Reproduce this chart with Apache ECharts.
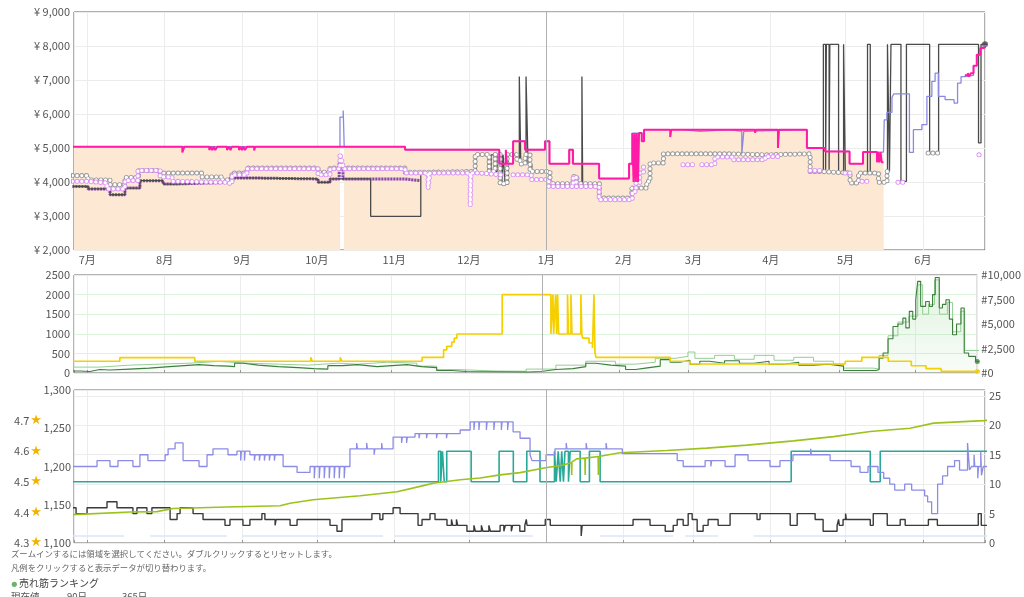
<!DOCTYPE html>
<html><head><meta charset="utf-8">
<script src="https://cdn.jsdelivr.net/npm/echarts/dist/echarts.min.js"></script>
<style>html,body{margin:0;padding:0;background:#fff}#c{width:1024px;height:597px}</style>
</head><body><div id="c"></div>
<script>
// x values are days after 2022-07-01 (day 0); null = gap
const monthNames = ['1月','2月','3月','4月','5月','6月','7月','8月','9月','10月','11月','12月'];
const axisStartDay = -5.33, axisEndDay = 359.9, yearBoundaryDay = 184;

const amazonPrice = [[-6,5040],[101.3,5040],[101.4,null],[102.9,5040],[127.4,4950],[165.2,4540],[170.7,5200],[175.5,4950],[183.5,5200],[185.3,4540],[193.2,4950],[194.7,4540],[205.2,4100],[217.2,4540],[218.5,5440],[222.3,5200],[223.2,5540],[288.5,5000],[295.8,4900],[305.6,4540],[311,4880],[319.2,4880],[319.3,null]];

const buyBox = [[-6,5040],[8.7,5000],[9.3,5040],[21.9,5000],[22.5,5040],[38.1,4870],[38.9,5040],[48.9,4940],[49.5,5040],[50.1,4940],[50.7,5040],[51.3,4940],[52.1,5040],[56,4940],[56.8,5040],[57.4,4940],[58,5040],[60.8,4940],[61.4,5040],[62,4940],[62.6,5040],[63.2,4940],[64,5040],[66.9,4930],[67.3,5040],[127.4,4950],[165.2,4540],[167.8,4950],[168.2,4540],[170.7,5200],[175.5,4950],[183.5,5200],[185.3,4540],[193.2,4950],[194.7,4540],[205.2,4100],[217.2,4540],[218.5,5440],[219,4000],[219.4,5440],[219.9,4000],[220.3,5440],[220.8,4000],[221.2,5440],[222.3,5200],[223.2,5540],[233.7,5320],[234.1,5540],[267.7,5450],[268.1,5540],[276.9,5000],[277.3,5540],[288.5,5000],[295.8,4900],[305.6,4540],[311,4880],[316.6,4580],[317,4880],[317.5,4580],[318,4880],[318.5,4580],[319.2,null],[351.8,7140],[353,7200],[353.5,7100],[354.2,7200],[355.3,7420],[356.6,7740],[358,7940],[359.2,7990],[361,7990]];

const newPrice = [[-6,5040],[101.3,5910],[102.6,6100],[103,5040],[127.4,4950],[165.2,4540],[170.7,5200],[175.5,4950],[183.5,5200],[185.3,4540],[193.2,4950],[194.7,4540],[205.2,4100],[217.2,4540],[218.5,5440],[222.3,5200],[223.2,5540],[238.4,5490],[245.7,5540],[257.7,5490],[262.4,4830],[263.2,5490],[263.6,5540],[288.5,5000],[295.8,4900],[305.6,4540],[311,4880],[319.2,4870],[319.5,5830],[320.6,6050],[322.6,6490],[323.3,6590],[329.6,4870],[331.2,5540],[334.6,5690],[336.6,6520],[338.6,6960],[339.9,7200],[341.2,6520],[343.9,6420],[347.5,6320],[348.9,6910],[350.3,7100],[352,7140],[355.3,7420],[356.6,7740],[358,7940],[359.2,8000],[361,8000]];

const usedPrice = [[-6,3870],[0.3,3795],[9.1,3625],[15.1,3820],[21.1,4040],[30.4,3940],[35.2,3990],[57.2,4120],[64,4090],[92.5,3990],[97.3,4090],[113.6,2990],[133.7,4265],[153.5,3290],[154.2,4310],[155.9,4800],[160.7,4310],[161.9,4800],[163.1,4310],[164.3,4800],[166.2,3950],[166.7,4800],[167.5,3950],[168.8,4800],[172.2,4650],[173.2,7100],[173.8,4530],[175.9,7100],[176.7,4530],[178.2,4310],[185.5,3950],[198.3,7100],[198.6,3950],[205.3,3530],[218.3,3820],[224.3,4020],[225.6,4560],[231,4830],[257.7,4800],[271.8,4830],[289.8,4310],[295.1,8050],[296,4360],[296.3,8050],[297.4,4360],[297.7,8050],[301.2,4265],[303.2,8050],[303.9,4265],[305.9,3970],[309.2,4265],[312.8,8050],[313.9,4265],[317.3,3990],[320.8,8050],[321.6,4310],[322.2,8050],[326.2,4020],[328.4,8050],[337.7,4850],[341.3,8050],[357.3,5150],[358.3,8050],[361,8050]];

const usedLikeNew = [[-6,4190],[0.3,4060],[9.1,3920],[15.1,4135],[20.6,4340],[29.2,4265],[46,4150],[54,4060],[58,4265],[64,4410],[92.5,4290],[97.3,4410],[127.4,4290],[138.2,4310],[155.5,4810],[161.1,4310],[163.5,4810],[165.5,3950],[168.3,4810],[172.2,4650],[173.5,4530],[175.5,4810],[177.5,4310],[185.5,3950],[194.8,4165],[196.3,3950],[205.3,3530],[218.3,3820],[224.3,4020],[225.6,4560],[231,4830],[257.7,4800],[271.8,4830],[289.8,4310],[293.8,4265],[305.8,3970],[309.2,4265],[317.2,3990],[320.6,4310],[322.5,4310],[322.6,null],[337.1,4850],[341.1,4850],[341.2,null]];

const usedVeryGood = [[-6,4020],[0.3,3970],[7.9,3795],[15.1,4045],[20.3,4340],[29.2,4150],[34,4020],[36.4,3990],[55.2,3950],[58,4210],[64,4390],[92.5,4210],[97.3,4390],[101.3,4830],[102,4630],[102.8,4390],[127.4,4265],[136.6,3820],[137.4,4265],[153.5,3290],[153.9,4265],[157,4210],[166,4210],[166.1,null],[170.7,4210],[178,4070],[185,3870],[194.8,4150],[196,3870],[205.2,3480],[218.5,3720],[220,3970],[221.5,4265],[223,4460],[224.5,4460],[224.6,null],[238.8,4510],[242.8,4510],[242.9,null],[246.4,4510],[251.6,4735],[258.5,4655],[271.8,4750],[277,4750],[277.1,null],[289.8,4340],[295,4340],[295.1,null],[303.8,4265],[306.6,4265],[306.7,null],[310.6,4020],[313,4020],[313.1,null],[325,3990],[327,3990],[327.1,null],[357.5,4800],[358.5,4800],[358.6,null]];

const usedGood = [[-6,3870],[0.3,3795],[9.1,3625],[15.1,3820],[21.1,4040],[30.4,3940],[35.2,3990],[57.2,4120],[64,4090],[92.5,3990],[97.3,4090],[101,4560],[102.5,4090],[127.4,4040],[133.4,4040],[133.5,null]];

const subRank = [[-6,300],[13.2,390],[43.5,300],[90.4,400],[91,300],[102.3,400],[103,300],[135.4,400],[144.1,590],[145.4,680],[147.4,790],[148.4,890],[149.5,995],[167.8,2000],[187.5,995],[188.3,2000],[188.6,995],[189.4,2000],[189.8,995],[190.2,2000],[190.6,995],[194.2,2000],[194.6,995],[195.6,2000],[196,995],[199.6,2000],[200,995],[200.3,890],[202.9,765],[204.3,640],[204.9,2000],[205.3,535],[205.7,400],[235.7,300],[243.7,230],[306.5,300],[313.2,400],[323.9,300],[333.2,185],[339.2,110],[345.3,40],[362,40]];

const salesRank = [[-6,200],[-2.9,150],[1.1,350],[5.1,300],[9.1,400],[17.1,500],[25.1,650],[33.2,750],[39.2,850],[45.2,750],[51.2,700],[57.2,650],[59.6,1000],[63.2,800],[69.2,650],[77.3,550],[85.3,450],[91.7,400],[97.3,750],[103.3,850],[109.3,650],[117.3,750],[123.2,850],[129.3,650],[135.3,550],[141.3,250],[147.4,150],[153.4,100],[178.6,150],[183.5,350],[189.5,450],[196.4,650],[201.6,1000],[205.6,800],[211.7,700],[217.7,350],[221.7,500],[225.7,700],[231.7,1360],[235.7,1100],[239.7,1300],[243.7,900],[247.7,1200],[251.7,1000],[257.7,1250],[263.7,1000],[269.7,1200],[275.7,900],[281.7,1100],[287.7,800],[293.7,900],[299.7,700],[305.8,250],[319,350],[320.2,1500],[321.8,2040],[323.8,3500],[325.8,4750],[327.8,5000],[329.8,5600],[331,4600],[332.4,6290],[333.8,5500],[335,7500],[335.8,9350],[337,6800],[339,7300],[340.5,6800],[341.8,8000],[342.9,9750],[344.5,6630],[345.8,7000],[347.2,7480],[348.6,5500],[349.9,3900],[351.5,5000],[353.3,6630],[354.6,2040],[356.4,1700],[359.2,1180],[362,1180]];

const salesRank2 = [[-6,600],[5.1,800],[17.1,900],[29.2,1000],[41.2,1180],[53.2,1000],[65.2,900],[77.3,800],[89.3,1000],[101.3,900],[109.3,1100],[121.3,1000],[133.3,700],[141.3,350],[149.5,200],[165.5,180],[177.5,400],[189.5,800],[201.6,1200],[213.6,900],[221.7,1100],[229.7,1500],[237.7,1700],[242.9,2140],[245.7,1500],[253.7,1800],[261.7,1400],[269.7,1800],[277.7,1300],[285.7,1600],[293.7,1200],[301.7,900],[305.8,500],[317.8,400],[320.2,1800],[323.8,3800],[327.8,5200],[332.2,5800],[335.8,9000],[337.8,6000],[340.2,7000],[342.6,9500],[344.6,6000],[347.8,7200],[349.9,4200],[353.2,6300],[354.8,2300],[362,1500]];

const newOfferCount = [[-6,13],[3.9,14],[9.1,13],[12.3,14],[18.3,13],[21.1,15],[24.3,14],[31.2,15],[32.4,16],[35.2,17],[38.4,14],[44.8,13],[48,15],[50.4,16],[56.4,15],[60,15.6],[61.5,14],[61.8,15.6],[63,14],[63.3,15.6],[65.2,15],[67,14],[67.3,15],[69,14],[69.3,15],[71,14],[71.3,15],[73,14],[73.3,15],[75,14],[75.3,15],[78.5,13],[84.1,12],[89.3,13],[91,11],[91.3,13],[93,11],[93.3,13],[95,11],[95.3,13],[97,11],[97.3,13],[99,11],[99.3,13],[101,11],[101.3,13],[103,11],[103.3,13],[105.3,16],[108,17],[108.3,16],[112,17],[112.3,16],[115,15],[115.3,16],[118,17],[118.3,16],[122.6,18],[126,17],[126.3,18],[128,17],[128.3,18],[131.4,18.6],[133,17.8],[133.3,18.6],[136,17.8],[136.3,18.6],[140,17.8],[140.3,18.6],[144,17.8],[144.3,18.6],[149.5,19.2],[153.5,20.6],[155,19.2],[155.3,20.6],[157,19.2],[157.3,20.6],[160,19.2],[160.3,20.6],[163,19.2],[163.3,20.6],[166,19.2],[166.3,20.6],[168.5,19.2],[168.8,20.6],[170.7,18.9],[173.5,17.8],[177.5,15],[178.3,14],[183.9,15],[187.5,16],[192,17],[192.3,16],[200,17],[200.3,16],[208,17],[208.3,16],[214.5,15.2],[236.5,14],[238.9,13],[247.7,14],[250,13],[250.3,14],[255.7,13],[259.7,15],[264.9,14],[273.7,13],[277.7,14],[282.9,15],[290,16],[290.3,15],[297.8,14],[306.2,13],[309.8,12],[313,13],[317,12],[319.3,11],[321.7,10],[323.7,9],[327.7,10],[330.5,9],[335.7,8],[336.9,7],[338.5,5],[340.9,10],[342.9,11.4],[344.9,13],[347.7,14],[349.7,12.4],[352.9,17],[353.7,12.4],[354.5,13],[355.5,15],[355.8,13],[357,11],[357.3,13],[358.2,15.5],[358.5,11.5],[359.2,13],[362,13]];

const offerCount = [[-6,6],[-4.5,5],[-0.1,6],[7.9,7],[11.9,6],[18.3,5],[19.9,6],[23.9,5],[25.9,6],[33.2,4],[36,5],[37.2,6],[42.4,5],[46.4,4],[55.2,3],[57.2,4],[62.4,3],[65.2,4],[70,5],[71.2,4],[75.3,3],[75.7,4],[81.3,3],[84.1,4],[97.3,3],[100.1,2],[102.1,4],[114.1,5],[117.3,4],[118.5,5],[122.6,6],[125.4,5],[132.6,3],[134.2,4],[137.4,5],[139.4,4],[144.2,3],[146,4],[146.5,3],[148,4],[148.5,3],[152.2,2],[155,3],[155.6,2],[158,3],[158.6,2],[161,3],[161.6,2],[165.5,3],[167,2],[167.6,3],[170,2],[170.5,3],[173.4,2],[175.4,3],[176,4],[176.3,3],[183.6,4],[185.6,3],[198,1.2],[198.4,3],[218.8,4],[225.6,3],[231.7,2],[234.9,3],[236.5,4],[238.9,3],[240.9,5],[242.5,4],[244.5,2],[246.9,3],[248.9,4],[252.9,3],[257.7,5],[268.5,4],[269.7,5],[281.8,3],[284.6,5],[291.8,4],[295,2],[300.6,3],[301.2,4],[301.5,3],[303,4],[304,5],[304.3,4],[307,4],[313.9,3],[315.1,5],[320.7,3],[325.9,4],[327.9,3],[337.2,4],[340.8,3],[357.2,5],[358.4,3],[362,3]];

const usedOfferCount = [[-6,1.2],[14.8,1.2],[14.9,null],[25.2,1.2],[56,1.2],[56.1,null],[62,1.2],[118.6,1.2],[118.7,null],[123.3,1.2],[178.6,1.2],[178.7,null],[205.6,1.2],[234.9,1.2],[235,null],[239.7,1.2],[252.9,1.2],[253,null],[267.1,1.2],[362,1.2]];

const rating = [[-6,4.5],[140.8,4.6],[141.7,4.5],[142.4,4.6],[143.1,4.5],[144.1,4.6],[153.9,4.5],[165.1,4.6],[170.8,4.5],[176.2,4.6],[181.5,4.5],[187.3,4.6],[188,4.5],[188.8,4.6],[189.6,4.5],[190.2,4.6],[190.9,4.5],[191.5,4.6],[192.9,4.5],[193.6,4.6],[197.6,4.5],[201.3,4.6],[205.6,4.5],[282.2,4.6],[313.9,4.5],[317.9,4.6],[362,4.6]];

const reviewCount = [[-6,1137],[17.1,1140.5],[27.9,1141],[34.4,1145],[56,1147],[77.3,1148.7],[81.3,1152],[90.5,1156.5],[109.4,1161.7],[124.2,1167],[134.7,1175],[138.6,1178],[149.5,1182.6],[157.5,1185],[165.5,1189],[173.5,1192],[184.2,1198.7],[189.5,1201],[194.1,1205],[194.2,1189],[194.3,1206],[196.2,1210],[199.5,1211],[199.6,1189],[199.7,1211],[204.8,1213],[204.9,1189],[205,1213],[205.6,1214],[213.6,1218],[232.3,1221],[248.4,1224],[264.4,1228],[283.1,1233.5],[299.2,1239],[313.9,1245.7],[329.9,1250],[339.3,1256.7],[359.3,1260],[362,1260.5]];

// ---------------------------------------------------------------
const DAY = 86400000;
const BASE = new Date(2022, 6, 1).getTime();
const T = d => BASE + d * DAY;
const toXY = arr => arr.map(p => [T(p[0]), p[1] === null ? '-' : p[1]]);
const lastPoint = arr => { for (let i = arr.length - 1; i >= 0; i--) if (arr[i][1] !== null) return arr[i]; };
const FONT = '"Noto Sans CJK JP","Noto Sans",sans-serif';
const LABEL = { color: '#555', fontSize: 11, fontFamily: FONT };

function xAxisFor(gi, showLabel) {
  return {
    type: 'time', gridIndex: gi, min: T(axisStartDay), max: T(axisEndDay),
    splitNumber: 12, minInterval: 28 * DAY, maxInterval: 31 * DAY,
    axisLine: { show: false },
    axisTick: { show: !showLabel, inside: true, length: 3, lineStyle: { color: '#999' } },
    axisLabel: Object.assign({ show: showLabel, margin: 4, hideOverlap: false,
      formatter: v => { const dt = new Date(v); return (dt.getDate() === 1 && dt.getHours() === 0) ? monthNames[dt.getMonth()] : ''; } }, LABEL),
    splitLine: { show: true, lineStyle: { color: '#ececec', width: 1 } }
  };
}
const janLine = { silent: true, symbol: 'none', animation: false, label: { show: false },
  lineStyle: { color: '#b0b0b0', width: 1, type: 'solid' }, data: [{ xAxis: T(yearBoundaryDay) }] };

function line(data, xi, yi, color, width, extra) {
  return Object.assign({ type: 'line', xAxisIndex: xi, yAxisIndex: yi, data: toXY(data), step: 'end',
    symbol: 'none', silent: true, animation: false, connectNulls: false,
    lineStyle: { color: color, width: width } }, extra || {});
}
function rings(data, color) {
  return [
    line(data, 0, 0, color, 5, { lineStyle: { color: color, width: 5, type: [0.1, 4.6], cap: 'round' } }),
    line(data, 0, 0, '#ffffff', 3.2, { lineStyle: { color: '#ffffff', width: 3.2, type: [0.1, 4.6], cap: 'round' } })
  ];
}

const series = [
  line(amazonPrice, 0, 0, '#fde8d4', 0, { areaStyle: { color: '#fde8d4', opacity: 1, origin: 'start' }, lineStyle: { width: 0 }, markLine: janLine }),
  line(usedGood, 0, 0, '#8a45ad', 3, { lineStyle: { color: '#8a45ad', width: 3, type: [2.2, 0.8] } }),
  line(usedPrice, 0, 0, '#4a4a4a', 1.3),
  ...rings(usedLikeNew, '#999999'),
  ...rings(usedVeryGood, '#dc92f4'),
  line(newPrice, 0, 0, '#8a8ae0', 1.3),
  line(buyBox, 0, 0, '#ff1aa8', 2),
  { type: 'scatter', xAxisIndex: 0, yAxisIndex: 0, silent: true, animation: false, symbolSize: 6,
    itemStyle: { color: '#444' }, data: [[T(axisEndDay), lastPoint(usedPrice)[1]]] },

  line(salesRank2, 1, 2, '#93cf93', 1),
  line(salesRank, 1, 2, '#3c7f3c', 1.1, {
    areaStyle: { origin: 'start', color: { type: 'linear', x: 0, y: 0, x2: 0, y2: 1,
      colorStops: [{ offset: 0, color: 'rgba(120,200,120,0.32)' }, { offset: 1, color: 'rgba(120,200,120,0.07)' }] } },
    markLine: janLine }),
  line(subRank, 1, 1, '#f5d000', 1.7),
  { type: 'scatter', xAxisIndex: 1, yAxisIndex: 2, silent: true, animation: false, symbolSize: 5,
    itemStyle: { color: '#3c7f3c' }, data: [[T(axisEndDay), lastPoint(salesRank)[1]]] },
  { type: 'scatter', xAxisIndex: 1, yAxisIndex: 1, silent: true, animation: false, symbolSize: 5,
    itemStyle: { color: '#f5d000' }, data: [[T(axisEndDay), lastPoint(subRank)[1]]] },

  line(usedOfferCount, 2, 4, '#dce6f8', 1.5, { markLine: janLine }),
  line(offerCount, 2, 4, '#3a3a3a', 1.4),
  line(rating, 2, 5, '#2aa89a', 1.6),
  line(reviewCount, 2, 3, '#9cc31c', 1.6, { step: false }),
  line(newOfferCount, 2, 4, '#8c8ce6', 1.3)
];

const chart = echarts.init(document.getElementById('c'), null, { renderer: 'canvas', width: 1024, height: 597 });
chart.setOption({
  animation: false,
  backgroundColor: '#ffffff',
  textStyle: { fontFamily: FONT },
  grid: [
    { left: 74, right: 39, top: 12, height: 238, show: true, borderColor: '#5f5f5f', borderWidth: 1 },
    { left: 74, right: 39, top: 275, height: 98, show: true, borderColor: '#6a6a6a', borderWidth: 1 },
    { left: 74, right: 39, top: 390, height: 153, show: true, borderColor: '#6a6a6a', borderWidth: 1 }
  ],
  xAxis: [xAxisFor(0, true), xAxisFor(1, false), xAxisFor(2, false)],
  yAxis: [
    { type: 'value', gridIndex: 0, min: 2000, max: 9000, interval: 1000,
      axisLine: { show: false }, axisTick: { show: false },
      axisLabel: Object.assign({ margin: 4, formatter: v => '¥ ' + v.toLocaleString('en-US') }, LABEL),
      splitLine: { lineStyle: { color: '#ececec' } } },
    { type: 'value', gridIndex: 1, min: 0, max: 2500, interval: 500,
      axisLine: { show: false }, axisTick: { show: false },
      axisLabel: Object.assign({ margin: 4, formatter: v => String(v) }, LABEL),
      splitLine: { lineStyle: { color: '#dcf3dc' } } },
    { type: 'value', gridIndex: 1, position: 'right', min: 0, max: 10000, interval: 2500,
      axisLine: { show: false }, axisTick: { show: false },
      axisLabel: Object.assign({ margin: 4, formatter: v => '#' + v.toLocaleString('en-US') }, LABEL),
      splitLine: { show: false } },
    { type: 'value', gridIndex: 2, min: 1100, max: 1300, interval: 50,
      axisLine: { show: false }, axisTick: { show: false },
      axisLabel: Object.assign({ margin: 3, formatter: v => v.toLocaleString('en-US') }, LABEL),
      splitLine: { show: false } },
    { type: 'value', gridIndex: 2, position: 'right', min: 0, max: 26, interval: 5,
      axisLine: { show: false }, axisTick: { show: false },
      axisLabel: Object.assign({ margin: 4, formatter: v => v > 25 ? '' : String(v) }, LABEL),
      splitLine: { lineStyle: { color: '#ececec' } } },
    { type: 'value', gridIndex: 2, position: 'left', offset: 32, min: 4.3, max: 4.8, interval: 0.1,
      axisLine: { show: false }, axisTick: { show: false },
      axisLabel: { margin: 0, formatter: v => v > 4.75 ? '' : '{n|' + v.toFixed(1) + '}{s|★}',
        rich: { n: { color: '#555', fontSize: 11, fontFamily: FONT }, s: { color: '#f2b200', fontSize: 13, fontFamily: '"DejaVu Sans",sans-serif', padding: [0, 0, 0, 1] } } },
      splitLine: { show: false } }
  ],
  series: series,
  graphic: [
    { type: 'text', left: 11, top: 550, silent: true, style: { text: 'ズームインするには領域を選択してください。ダブルクリックするとリセットします。', fill: '#666', font: '8.4px ' + FONT } },
    { type: 'text', left: 11, top: 563.5, silent: true, style: { text: '凡例をクリックすると表示データが切り替わります。', fill: '#666', font: '8.4px ' + FONT } },
    { type: 'circle', silent: true, shape: { cx: 14.3, cy: 584.3, r: 2.6 }, style: { fill: '#6db36d' } },
    { type: 'text', left: 19, top: 578.5, silent: true, style: { text: '売れ筋ランキング', fill: '#444', font: '10px ' + FONT } },
    { type: 'text', left: 11, top: 592, silent: true, style: { text: '現在値', fill: '#555', font: '9.5px ' + FONT } },
    { type: 'text', left: 67, top: 592, silent: true, style: { text: '90日', fill: '#555', font: '9.5px ' + FONT } },
    { type: 'text', left: 122, top: 592, silent: true, style: { text: '365日', fill: '#555', font: '9.5px ' + FONT } }
  ]
});
</script></body></html>
